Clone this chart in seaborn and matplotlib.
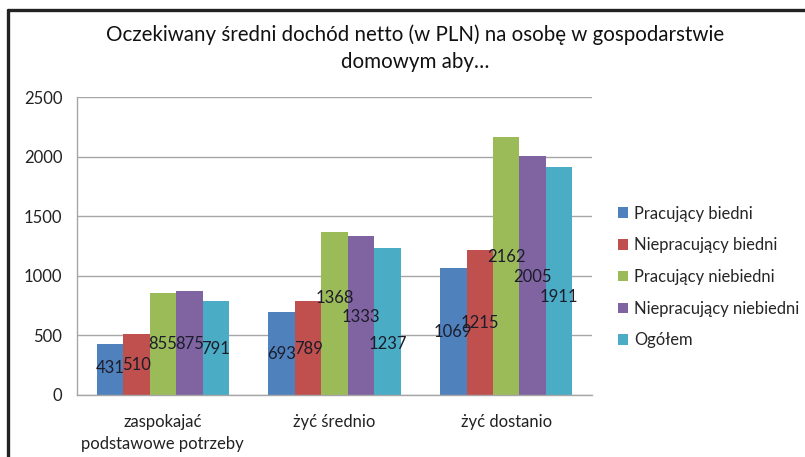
import matplotlib
matplotlib.use("Agg")
import matplotlib.pyplot as plt
import seaborn as sns
import pandas as pd
from matplotlib.lines import Line2D

categories = ["zaspokajać\npodstawowe potrzeby", "żyć średnio", "żyć dostanio"]
series = ["Pracujący biedni", "Niepracujący biedni", "Pracujący niebiedni",
          "Niepracujący niebiedni", "Ogółem"]
pracujacy_biedni = [431, 693, 1069]
niepracujacy_biedni = [510, 789, 1215]
pracujacy_niebiedni = [855, 1368, 2162]
niepracujacy_niebiedni = [875, 1333, 2005]
ogolem = [791, 1237, 1911]
values = [pracujacy_biedni, niepracujacy_biedni, pracujacy_niebiedni,
          niepracujacy_niebiedni, ogolem]

# anchor heights (data units) where the data labels sit in the original
label_anchor = [[226, 344, 528],
                [252, 386, 604],
                [428, 814, 1158],
                [428, 654, 990],
                [386, 428, 822]]

colors = ["#4F81BD", "#C0504D", "#9BBB59", "#8064A2", "#4BACC6"]

rows = []
for s, vals in zip(series, values):
    for c, v in zip(categories, vals):
        rows.append({"cat": c, "series": s, "val": v})
df = pd.DataFrame(rows)

sns.set_theme(style="white")
plt.rcParams["font.family"] = ["Lato", "DejaVu Sans"]

fig = plt.figure(figsize=(8.05, 4.57), dpi=100)
ax = fig.add_axes([0.0957, 0.1357, 0.6397, 0.652])

sns.barplot(data=df, x="cat", y="val", hue="series", palette=colors,
            saturation=1, width=0.77, linewidth=0, ax=ax, legend=True)

ax.set_ylim(0, 2500)
ax.set_yticks([0, 500, 1000, 1500, 2000, 2500])
ax.set_xlim(-0.5, 2.5)
ax.yaxis.grid(True, color="#a6a6a6", linewidth=1)
ax.set_axisbelow(True)
for side in ["top", "right"]:
    ax.spines[side].set_visible(False)
for side in ["left", "bottom"]:
    ax.spines[side].set_color("#a6a6a6")
    ax.spines[side].set_linewidth(1)
ax.set_xlabel("")
ax.set_ylabel("")
ax.tick_params(axis="y", labelsize=12, pad=10.5, length=0, colors="#222222")
ax.tick_params(axis="x", labelsize=12, pad=14, length=0, colors="#222222")
for t in ax.get_xticklabels():
    t.set_linespacing(1.4)
    t.set_verticalalignment("top")

for i, cont in enumerate(ax.containers):
    for j, bar in enumerate(cont):
        ax.text(bar.get_x() + bar.get_width() / 2, label_anchor[i][j],
                f"{values[i][j]}", ha="center", va="center",
                fontsize=12, color="#1c1c2a")

handles, labels = ax.get_legend_handles_labels()
ax.legend(handles, labels, loc="center left", bbox_to_anchor=(0.758, 0.394),
          bbox_transform=fig.transFigure, frameon=False, fontsize=11.9,
          handlelength=0.6, handleheight=0.6, handletextpad=0.35,
          labelspacing=0.95, borderpad=0)

fig.text(0.5155, 0.923, "Oczekiwany średni dochód netto (w PLN) na osobę w gospodarstwie",
         ha="center", va="center", fontsize=14.8, color="#111111")
fig.text(0.5155, 0.864, "domowym aby…", ha="center", va="center",
         fontsize=14.8, color="#111111")

# frame lines of the screenshot (top and left)
fig.add_artist(Line2D([0.010, 1.0], [0.978, 0.978], transform=fig.transFigure,
                      color="#222222", linewidth=2.4))
fig.add_artist(Line2D([0.010, 0.010], [0.0, 0.978], transform=fig.transFigure,
                      color="#222222", linewidth=2.4))

fig.savefig("out.png", dpi=100)
